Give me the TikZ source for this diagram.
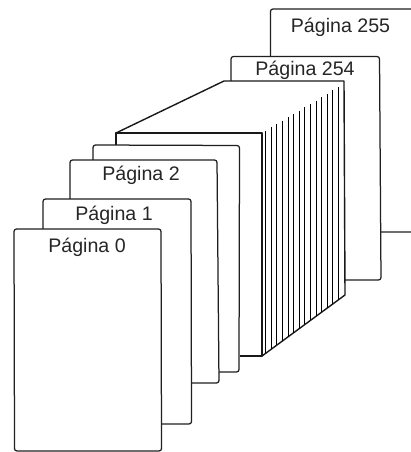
\documentclass[tikz,border=0pt]{standalone}
\usepackage{fontspec}
\setmainfont{Liberation Sans}
\tikzset{
  page/.style={draw=black!88,fill=white,line width=1.25pt,rounded corners=2.5pt},
  blockline/.style={draw=black!90,line width=1.4pt,line join=round},
  leaf/.style={draw=black,line width=1.1pt},
  pagelabel/.style={anchor=base,inner sep=0pt,text=black!85,font=\fontsize{19.6}{22}\selectfont}
}
\begin{document}
\begin{tikzpicture}[x=1pt,y=-1pt]
\useasboundingbox (0,0) rectangle (411,452);
\clip (0,0) rectangle (411,452);
% back pages
\draw[page] (270.5,60) -- (270.5,9) -- (425,9) -- (425,232) -- (370,232);
\draw[page] (231,90) -- (231,56.5) -- (379.5,56.5) -- (381,280) -- (330,280) -- cycle;
% block of pages
\filldraw[blockline,fill=white] (116,133) -- (224,81) -- (344,81) -- (345,295) -- (262,356) -- (262,133) -- cycle;
\foreach \i in {0,...,13}{
  \pgfmathsetmacro{\xt}{265.7+\i*5.6}
  \pgfmathsetmacro{\yt}{133-(\xt-262)*0.6}
  \pgfmathsetmacro{\yb}{356-(\xt-262)*0.735}
  \draw[leaf] (\xt,\yt) -- (\xt,\yb);
}
\path[fill=white] (116.7,133.7) rectangle (261.3,380);
\draw[blockline] (240,356) -- (262,356) -- (262,133) -- (116,133) -- (116,150);
% front pages
\draw[page] (93,160) -- (93,145) -- (239.5,145.5) -- (239,372) -- (200,372);
\draw[page] (70,200) -- (70,160) -- (217,160) -- (219,383) -- (170,383);
\draw[page] (43,240) -- (43,199) -- (191,199) -- (191.5,424) -- (140,424);
\draw[page] (14,229) -- (161,229) -- (161.5,451) -- (14.5,451) -- cycle;
% labels
\node[pagelabel] (p255) at (340.5,32.5) {Página 255};
\node[pagelabel] (p254) at (305,75) {Página 254};
\node[pagelabel] (p2) at (141,180) {Página 2};
\node[pagelabel] (p1) at (114,220.5) {Página 1};
\node[pagelabel] (p0) at (87,252.5) {Página 0};
\end{tikzpicture}
\end{document}
